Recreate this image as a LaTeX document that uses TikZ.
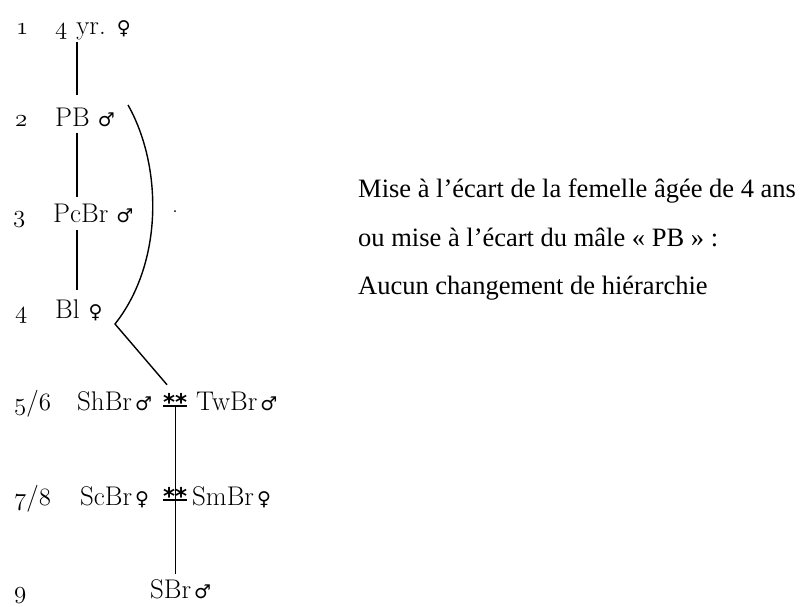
\documentclass[tikz,border=0pt]{standalone}
\usepackage{fontspec}
\newfontfamily\symf{DejaVu Sans}
\newfontfamily\rtf{Liberation Serif}
\newcommand{\fem}{{\symf\fontsize{19}{19}\selectfont ♀}}
\newcommand{\mal}{{\symf\fontsize{19}{19}\selectfont ♂}}
\newcommand{\osn}[1]{\legacyoldstylenums{#1}}
\begin{document}
\begin{tikzpicture}[x=1pt,y=-1pt,
  lbl/.style={anchor=base west, inner sep=0pt, font=\fontsize{27}{27}\selectfont},
  tie/.style={anchor=base west, inner sep=0pt, font=\symf\bfseries\fontsize{23}{23}\selectfont},
  note/.style={anchor=base west, inner sep=0pt, font=\rtf\fontsize{26.5}{26.5}\selectfont},
  link/.style={line width=1.4pt}]
\useasboundingbox (0,0) rectangle (804,606);
% rank numbers
\node[lbl] (k1) at (16,34) {\osn{1}};
\node[lbl] (k2) at (15,126) {\osn{2}};
\node[lbl] (k3) at (13,222) {\osn{3}};
\node[lbl] (k4) at (15,318) {\osn{4}};
\node[lbl] (k5) at (14,410) {\osn{5}/\osn{6}};
\node[lbl] (k7) at (14,505) {\osn{7}/\osn{8}};
\node[lbl] (k9) at (14,598) {\osn{9}};
% individuals
\node[lbl] (a1) at (55,34) {\osn{4}\hspace{9pt}yr.\hspace{11pt}\fem};
\node[lbl] (a2) at (55,126) {PB\hspace{8pt}\mal};
\node[lbl] (a3) at (53,222) {PcBr\hspace{8pt}\mal};
\node[lbl] (a4) at (55,318) {Bl\hspace{9pt}\fem};
\node[lbl] (b1) at (77,410) {ShBr\hspace{3pt}\mal};
\node[tie] (s5) at (163,410) {**};
\node[lbl] (b2) at (196,410) {TwBr\hspace{3pt}\mal};
\node[lbl] (c1) at (80,505) {ScBr\hspace{3pt}\fem};
\node[tie] (s7) at (163,504) {**};
\node[lbl] (c2) at (192,505) {SmBr\hspace{3pt}\fem};
\node[lbl] (d1) at (150,598) {SBr\hspace{3pt}\mal};
% underlines of the tied pairs
\draw[link] ([yshift=4pt]s5.base west) -- ([yshift=4pt]s5.base east);
\draw[link] ([yshift=4pt]s7.base west) -- ([yshift=4pt]s7.base east);
% hierarchy lines
\coordinate (colA) at (77,0);
\draw[link] ([yshift=-8pt]a1.base -| colA) -- ([yshift=31pt]a2.base -| colA);
\draw[link] ([yshift=-7pt]a2.base -| colA) -- ([yshift=25pt]a3.base -| colA);
\draw[link] ([yshift=-8pt]a3.base -| colA) -- ([yshift=28pt]a4.base -| colA);
\draw[link] ([yshift=4pt]s5.base) -- (s7.center) -- ([yshift=24pt]d1.base -| s5.base);
% curved link PB -> Bl -> pair 5/6
\coordinate (cvTop) at (128,105);
\coordinate (cvMid) at (115,324);
\draw[link] (cvTop) .. controls (162,165) and (164,262) .. (cvMid) -- ([shift={(4pt,8pt)}]s5.north west);
% speck
\fill (175,211) circle (1pt);
% commentary
\node[note] (t1) at (358,197) {Mise à l’écart de la femelle âgée de 4 ans};
\node[note] (t2) at (358,246) {ou mise à l’écart du mâle « PB » :};
\node[note] (t3) at (358,294) {Aucun changement de hiérarchie};
\end{tikzpicture}
\end{document}
